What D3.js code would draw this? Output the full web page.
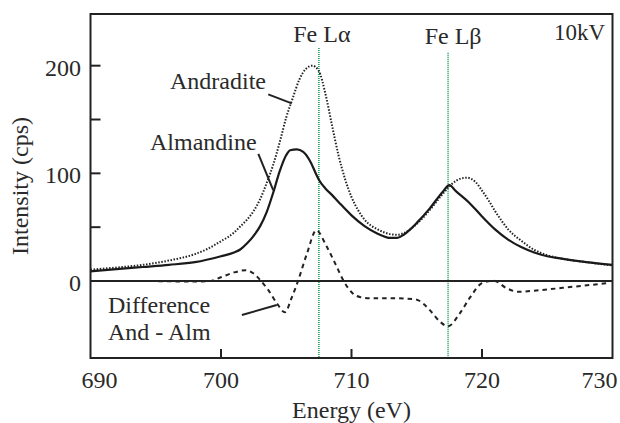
<!DOCTYPE html>
<html>
<head>
<meta charset="utf-8">
<script src="https://cdn.jsdelivr.net/npm/d3@7"></script>
<style>
  body { margin: 0; background: #fff; }
  text { font-family: "Liberation Serif", "Times New Roman", serif; fill: #2a2a2a; }
</style>
</head>
<body>
<div id="chart"></div>
<script>
// Almandine (solid)
var almEnergy = [690, 692, 694, 696, 698, 700, 701, 701.5, 702, 702.5, 703, 703.5, 704, 704.5, 705, 705.3, 705.8, 706.3, 706.8, 707.3, 707.5, 708, 708.5, 709, 710, 711, 712, 713, 713.5, 714, 714.5, 715, 716, 717, 717.5, 718, 719, 720, 721, 722, 723, 724, 725, 726, 728, 730];
var almIntensity = [9, 11, 13, 15, 17.5, 23, 26.5, 29.5, 35, 42, 51, 64, 82, 102, 117, 121.5, 122.3, 120, 112, 99, 94, 86, 80, 73.5, 61, 51, 44, 40, 40, 43, 48, 54, 67.5, 83, 89, 83.5, 73, 60, 48, 38.5, 31.5, 26.5, 23, 21, 17.5, 15];

// Andradite (dotted)
var andEnergy = [690, 692, 694, 696, 698, 699, 700, 700.5, 701, 701.5, 702, 702.5, 703, 703.5, 704, 704.5, 705, 705.5, 706, 706.5, 707, 707.5, 708, 708.5, 709, 709.5, 710, 710.5, 711, 712, 713, 713.5, 714, 715, 716, 717, 717.5, 718, 718.8, 719.5, 720, 720.5, 721, 721.5, 722, 723, 724, 725, 726, 728, 730];
var andIntensity = [10.5, 12.5, 15, 19, 25, 30, 37, 40.5, 45, 51, 57, 65, 76, 91, 108, 129, 152, 170, 187, 197, 200, 195, 174, 145, 117, 95, 78, 66, 57, 48, 43.5, 43, 44.5, 53, 66, 81, 88, 93, 96, 92, 84, 75, 65, 56, 48, 37.5, 29, 24, 21, 17.5, 14.5];

// Difference And - Alm (dashed)
var diffEnergy = [690, 694, 698, 699.2, 700, 701, 701.9, 702.5, 703, 703.6, 704.3, 704.9, 705.4, 705.9, 706.6, 707.3, 708.1, 708.8, 709.4, 710.1, 710.7, 711.5, 713, 714.9, 715.5, 716, 716.8, 717.4, 718.3, 719.1, 720, 720.9, 721.9, 722.8, 724.4, 727, 729.6];
var diffIntensity = [0, 0, -0.5, 0, 3.5, 8, 10, 7, 1, -8, -21, -29, -16, 0, 26, 47, 32, 15, 0, -11.5, -15, -16, -16, -17, -21, -27, -38, -42, -30, -15, -2, 0.3, -6.8, -10, -8.5, -5.3, -2];

var xTicks = [690, 700, 710, 720, 730];
var yTicks = [0, 50, 100, 150, 200];
var yTickLabels = [0, 100, 200];

// Fe emission lines
var lineNames = ["Fe L\u03b1", "Fe L\u03b2"];
var lineEnergy = [707.5, 717.4];
var lineTop = [216.5, 212];

var width = 620, height = 423;
var margin = {top: 14, right: 7.5, bottom: 65, left: 90.5};

var svg = d3.select("#chart")
	.append("svg")
	.attr("width", width)
	.attr("height", height);

var x = d3.scaleLinear()
	.domain([690, 730])
	.range([margin.left, width - margin.right]);

var y = d3.scaleLinear()
	.domain([-71.5, 248])
	.range([height - margin.bottom, margin.top]);

function zip(es, is) {
	return es.map(function(e, i) { return [e, is[i]]; });
}

var line = d3.line()
	.x(function(d) { return x(d[0]); })
	.y(function(d) { return y(d[1]); })
	.curve(d3.curveMonotoneX);

// green marker lines
svg.selectAll(".feline")
	.data(lineEnergy)
	.enter()
	.append("line")
		.attr("x1", function(d) { return x(d); })
		.attr("x2", function(d) { return x(d); })
		.attr("y1", function(d, i) { return y(lineTop[i]); })
		.attr("y2", y.range()[0])
		.style("stroke", "#1f9e55")
		.style("stroke-width", 1.6)
		.style("stroke-dasharray", "1,1");

// zero line
svg.append("line")
	.attr("x1", x.range()[0]).attr("x2", x.range()[1])
	.attr("y1", y(0)).attr("y2", y(0))
	.style("stroke", "#222")
	.style("stroke-width", 1.8);

svg.append("path")
	.datum(zip(diffEnergy, diffIntensity))
	.attr("d", line)
	.style("fill", "none")
	.style("stroke", "#222")
	.style("stroke-width", 2)
	.style("stroke-dasharray", "4.5,4");

svg.append("path")
	.datum(zip(andEnergy, andIntensity))
	.attr("d", line)
	.style("fill", "none")
	.style("stroke", "#222")
	.style("stroke-width", 2)
	.style("stroke-dasharray", "1.5,1.6");

svg.append("path")
	.datum(zip(almEnergy, almIntensity))
	.attr("d", line)
	.style("fill", "none")
	.style("stroke", "#1a1a1a")
	.style("stroke-width", 2.2);

// frame
svg.append("rect")
	.attr("x", x.range()[0])
	.attr("y", y.range()[1])
	.attr("width", x.range()[1] - x.range()[0])
	.attr("height", y.range()[0] - y.range()[1])
	.style("fill", "none")
	.style("stroke", "#222")
	.style("stroke-width", 2);

// inward ticks
svg.selectAll(".xtick")
	.data(xTicks.slice(1, -1))
	.enter()
	.append("line")
		.attr("x1", function(d) { return x(d); })
		.attr("x2", function(d) { return x(d); })
		.attr("y1", y.range()[0])
		.attr("y2", y.range()[0] - 9)
		.style("stroke", "#222")
		.style("stroke-width", 2);

svg.selectAll(".ytick")
	.data(yTicks.slice(1))
	.enter()
	.append("line")
		.attr("x1", x.range()[0])
		.attr("x2", x.range()[0] + 10)
		.attr("y1", function(d) { return y(d); })
		.attr("y2", function(d) { return y(d); })
		.style("stroke", "#222")
		.style("stroke-width", 2);

// end labels are pulled inside the frame edges
svg.selectAll(".xlabel")
	.data(xTicks)
	.enter()
	.append("text")
		.attr("x", function(d) { return Math.max(x.range()[0] + 9, Math.min(x.range()[1] - 13, x(d))); })
		.attr("y", 388)
		.attr("text-anchor", "middle")
		.style("font-size", "24px")
		.text(function(d) { return d; });

svg.selectAll(".ylabel")
	.data(yTickLabels)
	.enter()
	.append("text")
		.attr("x", 81)
		.attr("y", function(d) { return y(d) + 10; })
		.attr("text-anchor", "end")
		.style("font-size", "24px")
		.text(function(d) { return d; });

svg.append("text")
	.attr("x", (x.range()[0] + x.range()[1]) / 2)
	.attr("y", 418)
	.attr("text-anchor", "middle")
	.style("font-size", "24px")
	.text("Energy (eV)");

svg.append("text")
	.attr("transform", "translate(28," + (y.range()[0] + y.range()[1]) / 2 + ") rotate(-90)")
	.attr("text-anchor", "middle")
	.style("font-size", "24px")
	.text("Intensity (cps)");

// line names
svg.selectAll(".fename")
	.data(lineNames)
	.enter()
	.append("text")
		.attr("x", function(d, i) { return x(lineEnergy[i]) + [3, 5][i]; })
		.attr("y", function(d, i) { return [42, 44][i]; })
		.attr("text-anchor", "middle")
		.style("font-size", "24px")
		.text(function(d) { return d; });

svg.append("text")
	.attr("x", 605)
	.attr("y", 40)
	.attr("text-anchor", "end")
	.style("font-size", "23px")
	.text("10kV");

// curve labels with leaders, in data units
var labels = [
	{text: ["Andradite"], tx: 170, ty: 89, from: [703.62, 173.4], to: [705.42, 165]},
	{text: ["Almandine"], tx: 150, ty: 150, from: [702.86, 118], to: [704.0, 84.5]},
	{text: ["Difference", "And - Alm"], tx: 108, ty: 313, from: [701.6, -31.6], to: [704.27, -22.3]}
];

labels.forEach(function(l) {
	var t = svg.append("text")
		.attr("x", l.tx)
		.attr("y", l.ty)
		.style("font-size", "24px");
	l.text.forEach(function(s, i) {
		t.append("tspan")
			.attr("x", l.tx)
			.attr("dy", i === 0 ? 0 : 27)
			.text(s);
	});
	svg.append("line")
		.attr("x1", x(l.from[0])).attr("y1", y(l.from[1]))
		.attr("x2", x(l.to[0])).attr("y2", y(l.to[1]))
		.style("stroke", "#222")
		.style("stroke-width", 2);
});
</script>
</body>
</html>
